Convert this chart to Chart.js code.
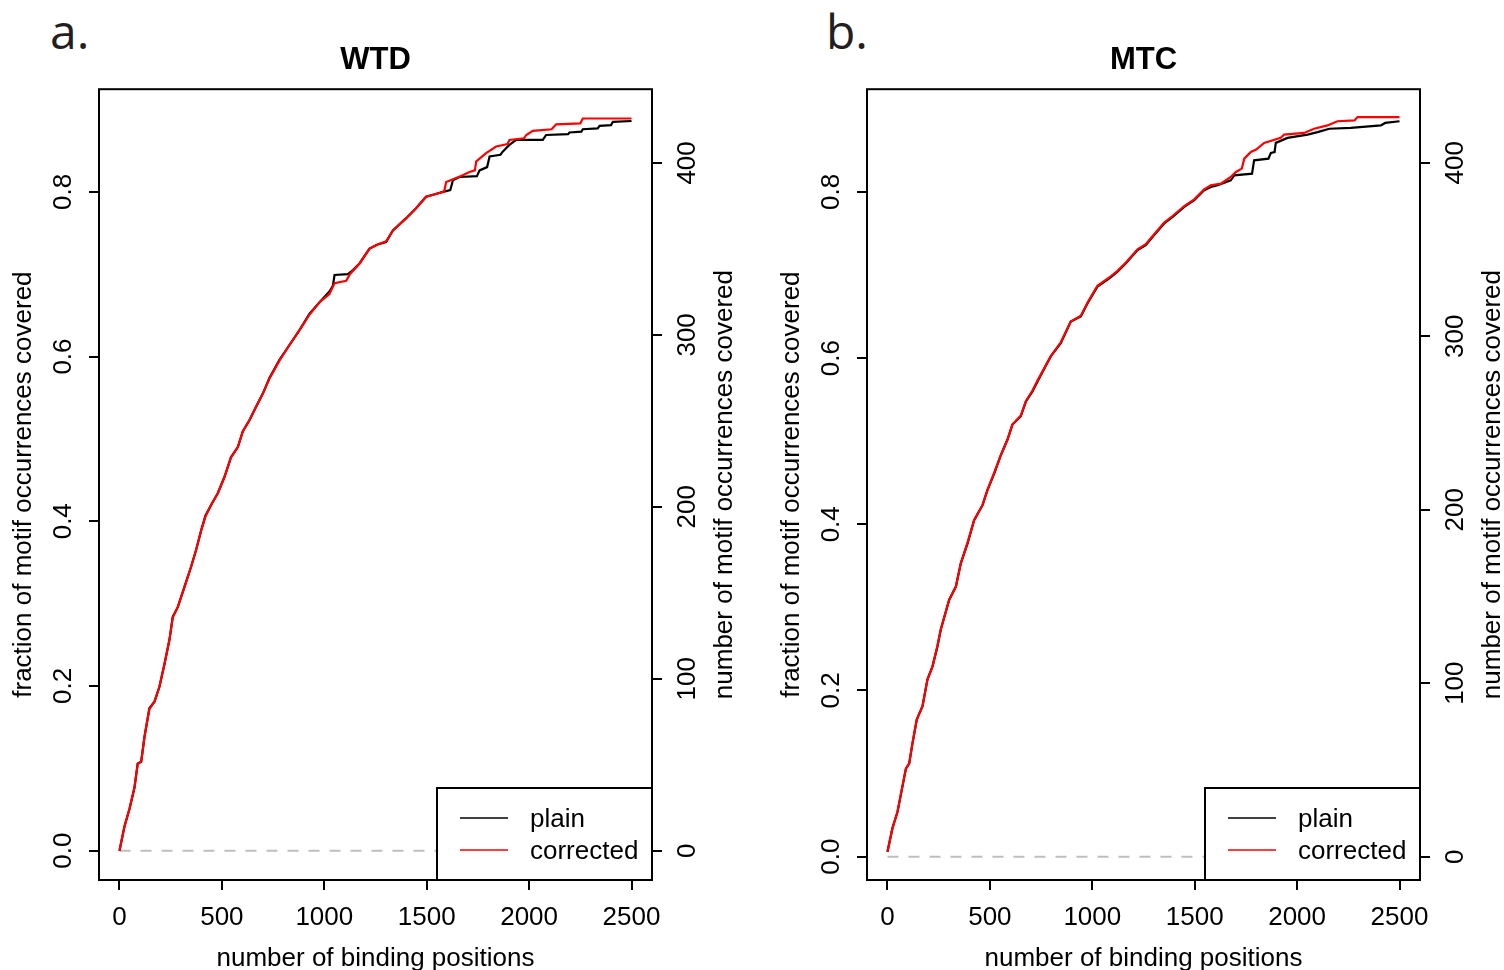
<!DOCTYPE html>
<html>
<head>
<meta charset="utf-8">
<title>motif coverage</title>
<script src="https://cdn.jsdelivr.net/npm/chart.js@4.4.0/dist/chart.umd.min.js"></script>
<style>
  body { margin: 0; background: #fff; }
  #wrap { position: relative; width: 1504px; height: 970px; overflow: hidden; }
  .panel { position: absolute; top: 0; width: 736px; height: 970px; }
  .tag { position: absolute; top: 7px; font-family: 'Open Sans', sans-serif; font-size: 48px; line-height: 1; color: #231f20; }
</style>
</head>
<body>
<div id="wrap">
  <div class="tag" style="left:50px">a.</div>
  <div class="tag" style="left:826px">b.</div>
  <div class="panel" style="left:0px"><canvas id="wtd" width="736" height="970"></canvas></div>
  <div class="panel" style="left:768px"><canvas id="mtc" width="736" height="970"></canvas></div>
</div>
<script>
// --- axes ---
const xTicks = [0, 500, 1000, 1500, 2000, 2500];
const fracTicks = [0, 0.2, 0.4, 0.6, 0.8];
const countTicks = [0, 100, 200, 300, 400];
const totalMotifs = 479;            // right axis = fraction * total
const xRange = [-100, 2600];
const yRangeWTD = [-0.0356, 0.9246];
const yRangeMTC = [-0.0281, 0.9236];

// --- curves: [binding positions, fraction covered] ---
const wtdPlain = [[0,0],[24,0.029],[49,0.051],[73,0.076],[89,0.106],[106,0.108],[122,0.138],[146,0.173],[171,0.181],[195,0.199],[220,0.227],[244,0.256],[260,0.284],[285,0.296],[317,0.320],[350,0.345],[374,0.365],[399,0.389],[420,0.407],[448,0.420],[480,0.434],[513,0.454],[545,0.478],[578,0.490],[602,0.509],[635,0.523],[667,0.539],[700,0.555],[732,0.574],[781,0.596],[830,0.614],[879,0.632],[928,0.652],[977,0.666],[1025,0.679],[1042,0.686],[1050,0.699],[1115,0.700],[1140,0.705],[1172,0.713],[1221,0.731],[1260,0.736],[1302,0.739],[1335,0.753],[1400,0.768],[1448,0.780],[1497,0.794],[1540,0.797],[1579,0.800],[1615,0.802],[1628,0.814],[1660,0.818],[1745,0.819],[1758,0.826],[1795,0.830],[1807,0.843],[1860,0.845],[1872,0.849],[1904,0.857],[1937,0.863],[2067,0.863],[2083,0.869],[2190,0.870],[2197,0.872],[2255,0.873],[2262,0.876],[2335,0.877],[2344,0.880],[2400,0.881],[2409,0.885],[2500,0.886]];
const wtdCorrected = [[0,0],[24,0.029],[49,0.051],[73,0.077],[89,0.105],[106,0.108],[122,0.138],[146,0.172],[171,0.181],[195,0.199],[220,0.227],[244,0.256],[260,0.283],[285,0.296],[317,0.320],[350,0.345],[374,0.365],[399,0.389],[420,0.406],[448,0.420],[480,0.434],[513,0.454],[545,0.478],[578,0.490],[602,0.509],[635,0.523],[667,0.539],[700,0.555],[732,0.573],[781,0.595],[830,0.614],[879,0.632],[928,0.651],[977,0.666],[1025,0.676],[1050,0.689],[1107,0.692],[1125,0.700],[1172,0.713],[1221,0.731],[1260,0.736],[1302,0.740],[1335,0.753],[1400,0.768],[1448,0.780],[1497,0.794],[1540,0.797],[1585,0.800],[1595,0.812],[1676,0.820],[1709,0.824],[1735,0.826],[1742,0.837],[1790,0.847],[1839,0.855],[1895,0.858],[1904,0.863],[1975,0.865],[1986,0.869],[2018,0.874],[2110,0.876],[2132,0.882],[2250,0.883],[2262,0.889],[2500,0.889]];
const mtcPlain = [[0,0.006],[24,0.034],[49,0.054],[65,0.074],[90,0.106],[106,0.112],[122,0.136],[143,0.165],[171,0.181],[195,0.213],[220,0.229],[244,0.253],[260,0.273],[301,0.309],[334,0.325],[358,0.353],[391,0.377],[423,0.405],[464,0.423],[488,0.441],[521,0.461],[553,0.483],[586,0.502],[610,0.520],[651,0.530],[676,0.548],[708,0.560],[737,0.574],[797,0.602],[846,0.618],[895,0.644],[944,0.650],[977,0.666],[1025,0.686],[1083,0.696],[1123,0.704],[1164,0.714],[1221,0.730],[1261,0.736],[1302,0.748],[1351,0.762],[1392,0.770],[1449,0.782],[1498,0.790],[1546,0.802],[1579,0.806],[1612,0.808],[1676,0.814],[1693,0.820],[1780,0.822],[1790,0.838],[1860,0.840],[1872,0.847],[1890,0.848],[1896,0.859],[1953,0.865],[2051,0.869],[2100,0.872],[2157,0.876],[2262,0.877],[2409,0.880],[2430,0.883],[2500,0.885]];
const mtcCorrected = [[0,0.006],[24,0.034],[49,0.054],[65,0.075],[90,0.106],[106,0.112],[122,0.137],[143,0.165],[171,0.181],[195,0.213],[220,0.229],[244,0.254],[260,0.273],[301,0.309],[334,0.325],[358,0.353],[391,0.378],[423,0.405],[464,0.423],[488,0.441],[521,0.462],[553,0.483],[586,0.502],[610,0.520],[651,0.531],[676,0.548],[708,0.561],[737,0.575],[797,0.602],[846,0.619],[895,0.644],[944,0.651],[977,0.667],[1025,0.687],[1083,0.697],[1123,0.705],[1164,0.715],[1221,0.731],[1261,0.737],[1302,0.749],[1351,0.763],[1392,0.771],[1449,0.783],[1498,0.791],[1546,0.803],[1579,0.808],[1628,0.810],[1676,0.818],[1701,0.824],[1730,0.828],[1742,0.840],[1774,0.848],[1800,0.851],[1839,0.859],[1920,0.865],[1937,0.869],[2034,0.871],[2083,0.876],[2148,0.880],[2197,0.885],[2280,0.886],[2295,0.890],[2500,0.890]];
const zeroLine = [[0,0],[2500,0]];

const FONT = "'Liberation Sans', Arial, sans-serif";
Chart.defaults.font.family = FONT;
Chart.defaults.color = '#000';

const toXY = arr => arr.map(p => ({ x: p[0], y: p[1] }));
const fixTicks = vals => s => { s.ticks = vals.map(v => ({ value: v })); };

// legend box in the bottom-right corner, frame, right-hand axis title
const framePlugin = {
    id: 'frame',
    afterDatasetsDraw(chart) {
        const { ctx, chartArea: a } = chart;
        const w = 215, h = 92, left = a.right - w, top = a.bottom - h;
        const items = chart.data.datasets.filter(d => d.inLegend).sort((p, q) => p.legendPos - q.legendPos);
        ctx.save();
        ctx.fillStyle = '#fff';
        ctx.fillRect(left, top, w, h);
        ctx.strokeStyle = '#000'; ctx.lineWidth = 2;
        ctx.strokeRect(left, top, w, h);
        ctx.font = '26px ' + FONT;
        ctx.textBaseline = 'middle';
        items.forEach((d, i) => {
            const y = top + 30 + i * 32;
            ctx.strokeStyle = d.borderColor; ctx.lineWidth = 1.5;
            ctx.beginPath(); ctx.moveTo(left + 23, y); ctx.lineTo(left + 71, y); ctx.stroke();
            ctx.fillStyle = '#000';
            ctx.fillText(d.label, left + 93, y + 2);
        });
        ctx.restore();
    },
    afterDraw(chart) {
        const { ctx, chartArea: a } = chart;
        ctx.save();
        ctx.strokeStyle = '#000'; ctx.lineWidth = 2;
        ctx.strokeRect(a.left, a.top, a.right - a.left, a.bottom - a.top);
        ctx.translate(a.right + 73, (a.top + a.bottom) / 2);
        ctx.rotate(-Math.PI / 2);
        ctx.font = '26px ' + FONT;
        ctx.fillStyle = '#000';
        ctx.textAlign = 'center'; ctx.textBaseline = 'middle';
        ctx.fillText('number of motif occurrences covered', 0, 0);
        ctx.restore();
    }
};

function makePanel(id, title, plain, corrected, yRange) {
    const tickGrid = { drawOnChartArea: false, color: '#000', lineWidth: 2, tickLength: 10 };
    return new Chart(document.getElementById(id), {
        type: 'line',
        data: {
            datasets: [
                { label: 'corrected', data: toXY(corrected), borderColor: '#ff0000', borderWidth: 2.2, inLegend: true, legendPos: 1 },
                { label: 'plain', data: toXY(plain), borderColor: '#000000', borderWidth: 2.2, inLegend: true, legendPos: 0 },
                { label: 'zero', data: toXY(zeroLine), borderColor: '#bebebe', borderWidth: 2, borderDash: [11, 10] }
            ]
        },
        options: {
            responsive: false,
            animation: false,
            elements: { point: { radius: 0 }, line: { tension: 0, fill: false } },
            layout: { padding: 0 },
            plugins: {
                legend: { display: false },
                tooltip: { enabled: false },
                title: {
                    display: true, text: title, fullSize: false,
                    font: { size: 31, weight: 'bold', lineHeight: 1.2 },
                    padding: { top: 42, bottom: 10 }
                }
            },
            scales: {
                x: {
                    type: 'linear', min: xRange[0], max: xRange[1],
                    afterBuildTicks: fixTicks(xTicks),
                    afterFit: s => { s.height = 90; },
                    grid: tickGrid, border: { display: false },
                    ticks: { padding: 12, autoSkip: false, maxRotation: 0, font: { size: 26 }, callback: v => String(v) },
                    title: { display: true, text: 'number of binding positions', font: { size: 26, lineHeight: 0.85 }, padding: 0 }
                },
                y: {
                    type: 'linear', position: 'left', min: yRange[0], max: yRange[1],
                    afterBuildTicks: fixTicks(fracTicks),
                    afterFit: s => { s.width = 99; },
                    grid: tickGrid, border: { display: false },
                    ticks: { padding: 7, autoSkip: false, minRotation: 90, maxRotation: 90, crossAlign: 'center', font: { size: 26 }, callback: v => v.toFixed(1) },
                    title: { display: true, text: 'fraction of motif occurrences covered', font: { size: 26, lineHeight: 1 }, padding: { top: 11, bottom: 0 } }
                },
                y2: {
                    type: 'linear', position: 'right', min: yRange[0] * totalMotifs, max: yRange[1] * totalMotifs,
                    afterBuildTicks: fixTicks(countTicks),
                    afterFit: s => { s.width = 84; },
                    grid: tickGrid, border: { display: false },
                    ticks: { padding: 4, autoSkip: false, minRotation: 90, maxRotation: 90, crossAlign: 'center', font: { size: 26 }, callback: v => String(v) }
                }
            }
        },
        plugins: [framePlugin]
    });
}

makePanel('wtd', 'WTD', wtdPlain, wtdCorrected, yRangeWTD);
makePanel('mtc', 'MTC', mtcPlain, mtcCorrected, yRangeMTC);
</script>
</body>
</html>
